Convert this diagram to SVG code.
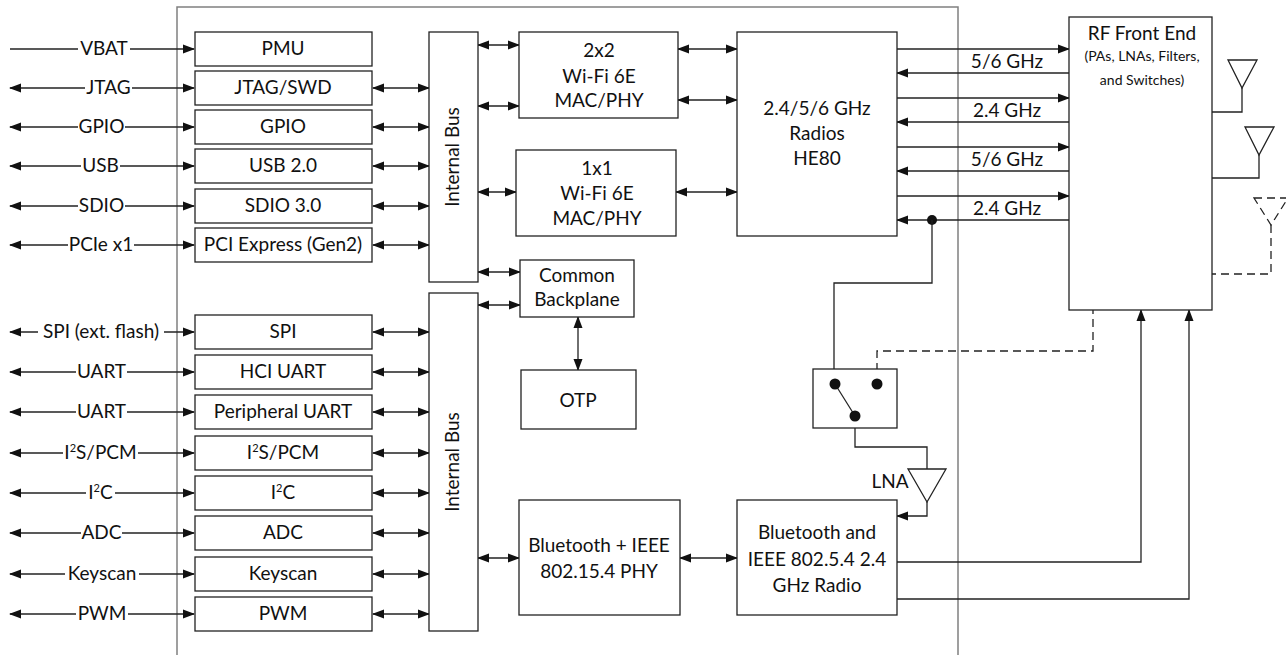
<svg xmlns="http://www.w3.org/2000/svg" width="1286" height="655" viewBox="0 0 1286 655">
<style>
text{font-family:Lato,"Liberation Sans",sans-serif;font-size:19px;fill:#111;text-anchor:middle}
.box{fill:#fff;stroke:#222;stroke-width:1.3}
.ln{fill:none;stroke:#222;stroke-width:1.3}
.dash{fill:none;stroke:#222;stroke-width:1.3;stroke-dasharray:8 5}
.chip{fill:none;stroke:#808080;stroke-width:1.5}
.bg{fill:#fff}
.a2{marker-start:url(#ah);marker-end:url(#ah)}
.a1{marker-end:url(#ah)}
.sm{font-size:14px}
</style>
<defs>
<marker id="ah" markerUnits="userSpaceOnUse" markerWidth="12" markerHeight="10" refX="11" refY="5" orient="auto-start-reverse" viewBox="0 0 12 10">
<path d="M0,0.5 L12,5 L0,9.5 Z" fill="#111"/>
</marker>
</defs>

<path class="chip" d="M177 660 V7 H958 V660"/>

<g id="connectors">
<line class="ln a1" x1="10" y1="49" x2="194" y2="49"/>
<line class="ln a2" x1="10" y1="88" x2="194" y2="88"/>
<line class="ln a2" x1="10" y1="127" x2="194" y2="127"/>
<line class="ln a2" x1="10" y1="166" x2="194" y2="166"/>
<line class="ln a2" x1="10" y1="206" x2="194" y2="206"/>
<line class="ln a2" x1="10" y1="245" x2="194" y2="245"/>
<line class="ln a2" x1="10" y1="332" x2="194" y2="332"/>
<line class="ln a2" x1="10" y1="372" x2="194" y2="372"/>
<line class="ln a2" x1="10" y1="412" x2="194" y2="412"/>
<line class="ln a2" x1="10" y1="453" x2="194" y2="453"/>
<line class="ln a2" x1="10" y1="493" x2="194" y2="493"/>
<line class="ln a2" x1="10" y1="533" x2="194" y2="533"/>
<line class="ln a2" x1="10" y1="574" x2="194" y2="574"/>
<line class="ln a2" x1="10" y1="614" x2="194" y2="614"/>
<line class="ln a2" x1="373" y1="88" x2="429" y2="88"/>
<line class="ln a2" x1="373" y1="127" x2="429" y2="127"/>
<line class="ln a2" x1="373" y1="166" x2="429" y2="166"/>
<line class="ln a2" x1="373" y1="206" x2="429" y2="206"/>
<line class="ln a2" x1="373" y1="245" x2="429" y2="245"/>
<line class="ln a2" x1="373" y1="332" x2="429" y2="332"/>
<line class="ln a2" x1="373" y1="372" x2="429" y2="372"/>
<line class="ln a2" x1="373" y1="412" x2="429" y2="412"/>
<line class="ln a2" x1="373" y1="453" x2="429" y2="453"/>
<line class="ln a2" x1="373" y1="493" x2="429" y2="493"/>
<line class="ln a2" x1="373" y1="533" x2="429" y2="533"/>
<line class="ln a2" x1="373" y1="574" x2="429" y2="574"/>
<line class="ln a2" x1="373" y1="614" x2="429" y2="614"/>
<line class="ln a2" x1="478" y1="45" x2="519" y2="45"/>
<line class="ln a2" x1="478" y1="106" x2="519" y2="106"/>
<line class="ln a2" x1="478" y1="192" x2="516" y2="192"/>
<line class="ln a2" x1="478" y1="272" x2="520" y2="272"/>
<line class="ln a2" x1="478" y1="305" x2="520" y2="305"/>
<line class="ln a2" x1="478" y1="558" x2="519" y2="558"/>
<line class="ln a2" x1="578" y1="317" x2="578" y2="370"/>
<line class="ln a2" x1="678" y1="49" x2="737" y2="49"/>
<line class="ln a2" x1="678" y1="100" x2="737" y2="100"/>
<line class="ln a2" x1="676" y1="192" x2="737" y2="192"/>
<line class="ln a2" x1="680" y1="558" x2="737" y2="558"/>
<line class="ln a1" x1="897" y1="49" x2="1069" y2="49"/>
<line class="ln a1" x1="1069" y1="73" x2="897" y2="73"/>
<line class="ln a1" x1="897" y1="98" x2="1069" y2="98"/>
<line class="ln a1" x1="1069" y1="122" x2="897" y2="122"/>
<line class="ln a1" x1="897" y1="147" x2="1069" y2="147"/>
<line class="ln a1" x1="1069" y1="171" x2="897" y2="171"/>
<line class="ln a1" x1="897" y1="196" x2="1069" y2="196"/>
<line class="ln a1" x1="1069" y1="220" x2="897" y2="220"/>
<circle cx="932" cy="220" r="5" fill="#111"/>
<path class="ln" d="M932 220 V283 H834 V384"/>
<path class="dash" d="M877 384 V351 H1093 V310"/>
<path class="ln" d="M855 416 V447 H927 V469"/>
<path class="ln a1" d="M927 502 V516 H897"/>
<path class="ln a1" d="M897 562 H1141 V310"/>
<path class="ln a1" d="M897 599 H1189 V310"/>
<path class="ln" d="M1242 88 V112 H1212"/>
<path class="ln" d="M1259 155 V178 H1212"/>
<path class="dash" d="M1271 225 V274 H1212"/>
</g>

<g id="ext-labels">
<rect class="bg" x="78" y="40" width="52" height="18"/><text x="104" y="55">VBAT</text>
<rect class="bg" x="85" y="79" width="47" height="18"/><text x="108.5" y="94">JTAG</text>
<rect class="bg" x="78" y="118" width="47" height="18"/><text x="101.5" y="133">GPIO</text>
<rect class="bg" x="81" y="157" width="39" height="18"/><text x="100.5" y="172">USB</text>
<rect class="bg" x="78" y="197" width="47" height="18"/><text x="101.5" y="212">SDIO</text>
<rect class="bg" x="68" y="236" width="66" height="18"/><text x="101" y="251">PCIe x1</text>
<rect class="bg" x="38" y="323" width="126" height="18"/><text x="101" y="338">SPI (ext. flash)</text>
<rect class="bg" x="76" y="363" width="51" height="18"/><text x="101.5" y="378">UART</text>
<rect class="bg" x="76" y="403" width="51" height="18"/><text x="101.5" y="418">UART</text>
<rect class="bg" x="63" y="444" width="75" height="18"/><text x="100.5" y="459">I<tspan dy="-7" font-size="11">2</tspan><tspan dy="7">S/PCM</tspan></text>
<rect class="bg" x="86" y="484" width="29" height="18"/><text x="100.5" y="499">I<tspan dy="-7" font-size="11">2</tspan><tspan dy="7">C</tspan></text>
<rect class="bg" x="81" y="524" width="41" height="18"/><text x="101.5" y="539">ADC</text>
<rect class="bg" x="65" y="565" width="74" height="18"/><text x="102" y="580">Keyscan</text>
<rect class="bg" x="76" y="605" width="52" height="18"/><text x="102" y="620">PWM</text>
</g>

<g id="pmu"><rect class="box" x="195" y="32" width="177" height="34"/><text x="283" y="55">PMU</text></g>
<g id="jtag"><rect class="box" x="195" y="71" width="177" height="34"/><text x="283" y="94">JTAG/SWD</text></g>
<g id="gpio"><rect class="box" x="195" y="110" width="177" height="34"/><text x="283" y="133">GPIO</text></g>
<g id="usb"><rect class="box" x="195" y="149" width="177" height="34"/><text x="283" y="172">USB 2.0</text></g>
<g id="sdio"><rect class="box" x="195" y="189" width="177" height="34"/><text x="283" y="212">SDIO 3.0</text></g>
<g id="pcie"><rect class="box" x="195" y="228" width="177" height="34"/><text x="283" y="251">PCI Express (Gen2)</text></g>

<g id="spi"><rect class="box" x="195" y="315" width="177" height="34"/><text x="283" y="338">SPI</text></g>
<g id="hciuart"><rect class="box" x="195" y="355" width="177" height="34"/><text x="283" y="378">HCI UART</text></g>
<g id="puart"><rect class="box" x="195" y="395" width="177" height="34"/><text x="283" y="418">Peripheral UART</text></g>
<g id="i2s"><rect class="box" x="195" y="436" width="177" height="34"/><text x="283" y="459">I<tspan dy="-7" font-size="11">2</tspan><tspan dy="7">S/PCM</tspan></text></g>
<g id="i2c"><rect class="box" x="195" y="476" width="177" height="34"/><text x="283" y="499">I<tspan dy="-7" font-size="11">2</tspan><tspan dy="7">C</tspan></text></g>
<g id="adc"><rect class="box" x="195" y="516" width="177" height="34"/><text x="283" y="539">ADC</text></g>
<g id="keyscan"><rect class="box" x="195" y="557" width="177" height="34"/><text x="283" y="580">Keyscan</text></g>
<g id="pwm"><rect class="box" x="195" y="597" width="177" height="34"/><text x="283" y="620">PWM</text></g>

<g id="bus1"><rect class="box" x="429" y="32" width="49" height="250"/><text transform="translate(459 157) rotate(-90)">Internal Bus</text></g>
<g id="bus2"><rect class="box" x="429" y="293" width="49" height="338"/><text transform="translate(459 462) rotate(-90)">Internal Bus</text></g>

<g id="wifi2x2"><rect class="box" x="519" y="32" width="159" height="86"/><text x="599" y="57">2x2</text><text x="599" y="83">Wi-Fi 6E</text><text x="599" y="107">MAC/PHY</text></g>
<g id="wifi1x1"><rect class="box" x="516" y="150" width="160" height="86"/><text x="597" y="175">1x1</text><text x="597" y="200">Wi-Fi 6E</text><text x="597" y="225">MAC/PHY</text></g>
<g id="backplane"><rect class="box" x="520" y="260" width="114" height="57"/><text x="577" y="282">Common</text><text x="577" y="306">Backplane</text></g>
<g id="otp"><rect class="box" x="521" y="370" width="115" height="59"/><text x="578" y="407">OTP</text></g>
<g id="btphy"><rect class="box" x="519" y="500" width="161" height="115"/><text x="599" y="552">Bluetooth + IEEE</text><text x="599" y="578">802.15.4 PHY</text></g>
<g id="radios"><rect class="box" x="737" y="32" width="160" height="204"/><text x="817" y="115">2.4/5/6 GHz</text><text x="817" y="140">Radios</text><text x="817" y="165">HE80</text></g>
<g id="btradio"><rect class="box" x="737" y="500" width="160" height="115"/><text x="817" y="539">Bluetooth and</text><text x="817" y="566">IEEE 802.5.4 2.4</text><text x="817" y="592">GHz Radio</text></g>

<g id="band-labels">
<text x="1007" y="68">5/6 GHz</text>
<text x="1007" y="117">2.4 GHz</text>
<text x="1007" y="166">5/6 GHz</text>
<text x="1007" y="215">2.4 GHz</text>
</g>

<g id="switch">
<rect class="box" x="813" y="369" width="84" height="59"/>
<line class="ln" x1="835" y1="384" x2="855" y2="416"/>
<circle cx="835" cy="384" r="5.5" fill="#111"/>
<circle cx="877" cy="384" r="5.5" fill="#111"/>
<circle cx="855" cy="416" r="5.5" fill="#111"/>
</g>

<g id="lna">
<polygon class="box" points="908,469 946,469 927,502"/>
<text x="890" y="488">LNA</text>
</g>

<g id="rffe"><rect class="box" x="1069" y="17" width="143" height="293"/><text x="1142" y="40">RF Front End</text><text class="sm" x="1142" y="61">(PAs, LNAs, Filters,</text><text class="sm" x="1142" y="85">and Switches)</text></g>

<g id="antenna1"><polygon class="box" points="1228,60 1257,60 1242,88"/></g>
<g id="antenna2"><polygon class="box" points="1245,127 1274,127 1259,155"/></g>
<g id="antenna3"><polygon class="dash" points="1254,198 1288,198 1271,225"/></g>
</svg>
